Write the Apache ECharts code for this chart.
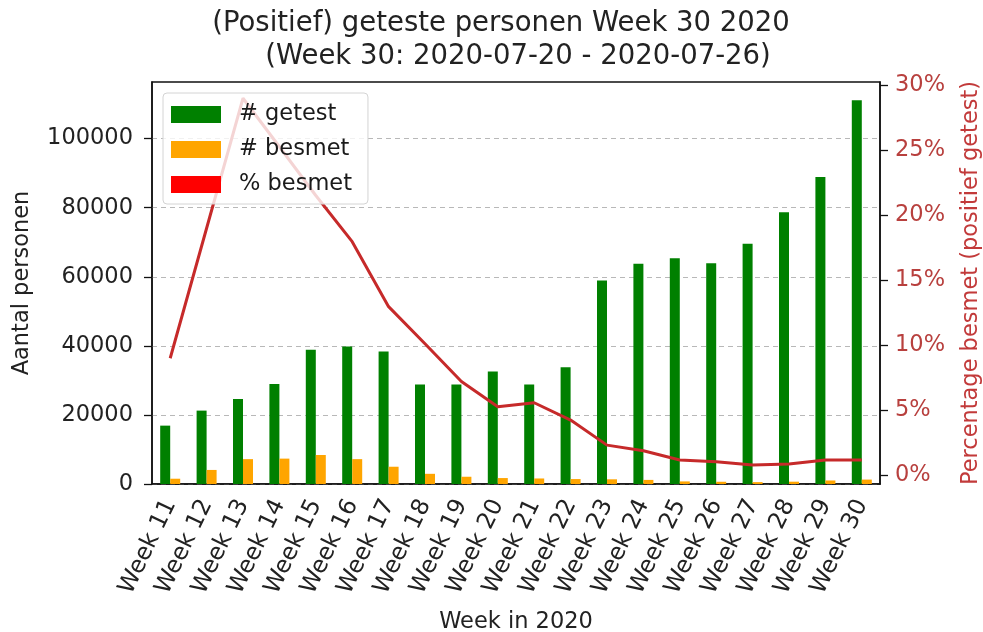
<!DOCTYPE html>
<html>
<head>
<meta charset="utf-8">
<script src="https://cdn.jsdelivr.net/npm/echarts@6/dist/echarts.min.js"></script>
<style>
html,body{margin:0;padding:0;background:#fff;}
#chart{width:983px;height:632px;}
</style>
</head>
<body>
<div id="chart"></div>
<script>
const weeks = ['Week 11','Week 12','Week 13','Week 14','Week 15','Week 16','Week 17','Week 18','Week 19','Week 20',
               'Week 21','Week 22','Week 23','Week 24','Week 25','Week 26','Week 27','Week 28','Week 29','Week 30'];
const getest = [16900, 21250, 24640, 28990, 38840, 39800, 38350, 28780, 28780, 32550,
                28780, 33800, 58930, 63770, 65390, 63940, 69570, 78720, 88870, 111100];
const besmet = [1530, 4070, 7200, 7350, 8400, 7200, 5000, 2950, 2100, 1720,
                1600, 1430, 1360, 1190, 750, 650, 540, 670, 1020, 1280];
const pctBesmet = [8.98, 18.98, 28.98, 25.25, 21.5, 17.95, 12.95, 10.1, 7.2, 5.25,
                   5.56, 4.23, 2.3, 1.87, 1.15, 1.02, 0.77, 0.85, 1.15, 1.15];
const leftTicks = [0, 20000, 40000, 60000, 80000, 100000];
const rightTicks = [0, 5, 10, 15, 20, 25, 30];

const FONT = 'DejaVu Sans';
const chart = echarts.init(document.getElementById('chart'), null, {renderer: 'canvas'});
chart.setOption({
  backgroundColor: '#ffffff',
  animation: false,
  textStyle: {fontFamily: FONT},
  title: [
    {text: '(Positief) geteste personen Week 30 2020', left: 501, top: 10, textAlign: 'center', padding: 0,
     textStyle: {fontFamily: FONT, fontSize: 27.5, fontWeight: 'normal', color: '#222'}},
    {text: '(Week 30: 2020-07-20 - 2020-07-26)', left: 518, top: 43, textAlign: 'center', padding: 0,
     textStyle: {fontFamily: FONT, fontSize: 27.5, fontWeight: 'normal', color: '#222'}}
  ],
  legend: {
    orient: 'vertical', left: 163, top: 93,
    itemWidth: 50, itemHeight: 17, itemGap: 12,
    padding: [10, 16, 8, 8],
    backgroundColor: 'rgba(255,255,255,0.8)',
    borderColor: '#d4d4d4', borderWidth: 1, borderRadius: 4,
    textStyle: {fontFamily: FONT, fontSize: 22.5, color: '#1a1a1a', padding: [0, 0, 0, 13]},
    data: [
      {name: '# getest', icon: 'rect'},
      {name: '# besmet', icon: 'rect'},
      {name: '% besmet', icon: 'rect'}
    ]
  },
  grid: {left: 152, right: 103, top: 82, bottom: 148, show: true, borderColor: '#111', borderWidth: 1.5,
         containLabel: false, outerBoundsMode: 'none'},
  xAxis: {
    type: 'category', data: weeks, boundaryGap: true,
    name: 'Week in 2020', nameLocation: 'middle', nameGap: 127,
    nameTextStyle: {fontFamily: FONT, fontSize: 22.5, color: '#222'},
    axisLine: {lineStyle: {color: '#111', width: 1.5}},
    axisTick: {alignWithLabel: true, length: 7, lineStyle: {color: '#111', width: 1.3}},
    axisLabel: {rotate: 64, fontSize: 23.5, color: '#222', margin: 17, interval: 0}
  },
  yAxis: [
    {
      type: 'value', min: 0, max: 116400, interval: 20000,
      name: 'Aantal personen', nameLocation: 'middle', nameGap: 118, nameRotate: 90,
      nameTextStyle: {fontFamily: FONT, fontSize: 22.5, color: '#222'},
      axisLine: {show: true, lineStyle: {color: '#111', width: 1.5}},
      axisTick: {show: true, length: 8, lineStyle: {color: '#111', width: 1.3}, customValues: leftTicks},
      axisLabel: {fontSize: 22.5, color: '#222', margin: 19, customValues: leftTicks,
                  formatter: function (v) { return String(v); }},
      splitLine: {show: true, lineStyle: {color: '#b8b8b8', type: [5, 4], width: 1.2}}
    },
    {
      type: 'value', min: -0.69, max: 30.23, position: 'right',
      name: 'Percentage besmet (positief getest)', nameLocation: 'middle', nameGap: 80, nameRotate: 90,
      nameTextStyle: {fontFamily: FONT, fontSize: 22.5, color: '#c23a3a'},
      axisLine: {show: true, lineStyle: {color: '#111', width: 1.5}},
      axisTick: {show: true, length: 8, lineStyle: {color: '#111', width: 1.3}, customValues: rightTicks},
      axisLabel: {fontSize: 22.5, color: '#b8403e', margin: 15, customValues: rightTicks, formatter: '{value}%'},
      splitLine: {show: false}
    }
  ],
  series: [
    {name: '# getest', type: 'bar', data: getest, barWidth: 10, barGap: '0%', itemStyle: {color: '#008000'}, z: 2},
    {name: '# besmet', type: 'bar', data: besmet, barWidth: 10, barGap: '0%', itemStyle: {color: '#ffa500'}, z: 2},
    {name: '% besmet', type: 'line', yAxisIndex: 1, data: pctBesmet, symbol: 'none', smooth: false,
     itemStyle: {color: '#ff0000'}, lineStyle: {color: '#c62a2a', width: 3}, z: 3}
  ]
});
</script>
</body>
</html>
